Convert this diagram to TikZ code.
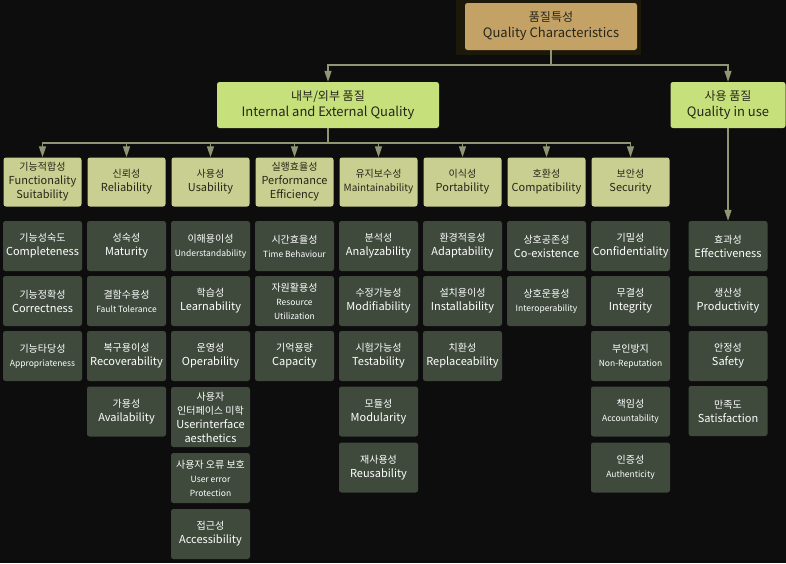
\documentclass[tikz,border=0pt]{standalone}
\usepackage{fontspec}
\setmainfont{Noto Sans CJK KR}
\usetikzlibrary{arrows.meta}

\definecolor{bgcol}{HTML}{0D0D0D}
\definecolor{rootedge}{HTML}{1C190B}
\definecolor{rootfill}{HTML}{C4A266}
\definecolor{grpfill}{HTML}{C6E07C}
\definecolor{catfill}{HTML}{C8CF90}
\definecolor{leaffill}{HTML}{3F4A3D}
\definecolor{linecol}{HTML}{8E9673}
\definecolor{darktxt}{HTML}{26261A}

% korean line slightly smaller than the english line
\newcommand{\kr}[1]{{\fontsize{10}{12.5}\selectfont #1}}
\newcommand{\smtxt}[1]{{\fontsize{8.5}{11}\selectfont #1}}

\begin{document}
\begin{tikzpicture}[x=1pt, y=-1pt,
  box/.style={rounded corners=2.5pt, align=center, inner sep=1pt,
    font=\fontsize{11}{14}\selectfont},
  rootbox/.style={box, fill=rootfill, text=darktxt, minimum width=172pt,
    minimum height=47pt, font=\fontsize{13}{16}\selectfont},
  grpbox/.style={box, fill=grpfill, text=darktxt, minimum height=46pt,
    font=\fontsize{13}{16}\selectfont},
  catbox/.style={box, fill=catfill, text=darktxt, minimum width=78pt,
    minimum height=49pt},
  leafbox/.style={box, fill=leaffill, text=white, minimum width=79pt,
    minimum height=50pt},
  conn/.style={draw=linecol, line width=1.2pt},
  arr/.style={conn, -{Triangle[width=7pt,length=11pt]}}]

\fill[bgcol] (0,0) rectangle (786,563);
\useasboundingbox (0,0) rectangle (786,563);

% top levels
\fill[rootedge] (456,0) rectangle (641,55);
\node[rootbox] (root) at (551,26.5) {\kr{\fontsize{12}{15}\selectfont 품질특성}\\Quality Characteristics};
\node[grpbox, minimum width=222pt] (inext) at (328,105) {\kr{\fontsize{12}{15}\selectfont 내부/외부 품질}\\Internal and External Quality};
\node[grpbox, minimum width=115pt] (inuse) at (728,105) {\kr{\fontsize{12}{15}\selectfont 사용 품질}\\Quality in use};

\coordinate (j1) at (551,65);
\coordinate (j2) at (328,143);
\draw[conn] (root) -- (j1);
\draw[arr] (j1) -| (inext);
\draw[arr] (j1) -| (inuse);
\draw[conn] (inext) -- (j2);

% characteristics
\node[catbox] (func) at (42.5,182) {\kr{기능적합성}\\Functionality\\Suitability};
\node[catbox] (reli) at (126.5,182) {\kr{신뢰성}\\Reliability};
\node[catbox] (usab) at (210.5,182) {\kr{사용성}\\Usability};
\node[catbox] (perf) at (294.5,182) {\kr{실행효율성}\\Performance\\Efficiency};
\node[catbox] (main) at (378.5,182) {\kr{유지보수성}\\{\fontsize{10}{14}\selectfont Maintainability}};
\node[catbox] (port) at (462.5,182) {\kr{이식성}\\Portability};
\node[catbox] (comp) at (546.5,182) {\kr{호환성}\\Compatibility};
\node[catbox] (secu) at (630.5,182) {\kr{보안성}\\Security};

\foreach \c in {func,reli,usab,perf,main,port,comp,secu}
  \draw[arr] (j2) -| (\c);

% sub-characteristics
\node[leafbox] (f1) at (42.5,246) {\kr{기능성숙도}\\Completeness};
\node[leafbox] (f2) at (42.5,301) {\kr{기능정확성}\\Correctness};
\node[leafbox] (f3) at (42.5,356) {\kr{기능타당성}\\\smtxt{Appropriateness}};

\node[leafbox] (r1) at (126.5,246) {\kr{성숙성}\\Maturity};
\node[leafbox] (r2) at (126.5,301) {\kr{결함수용성}\\\smtxt{Fault Tolerance}};
\node[leafbox] (r3) at (126.5,356) {\kr{복구용이성}\\Recoverability};
\node[leafbox] (r4) at (126.5,411.5) {\kr{가용성}\\Availability};

\node[leafbox] (u1) at (210.5,246) {\kr{이해용이성}\\\smtxt{Understandability}};
\node[leafbox] (u2) at (210.5,301) {\kr{학습성}\\Learnability};
\node[leafbox] (u3) at (210.5,356) {\kr{운영성}\\Operability};
\node[leafbox, minimum height=60pt] (u4) at (210.5,417) {\kr{사용자}\\\kr{인터페이스 미학}\\Userinterface\\aesthetics};
\node[leafbox] (u5) at (210.5,478) {\kr{사용자 오류 보호}\\\smtxt{User error}\\\smtxt{Protection}};
\node[leafbox] (u6) at (210.5,534) {\kr{접근성}\\Accessibility};

\node[leafbox] (p1) at (294.5,246) {\kr{시간효율성}\\\smtxt{Time Behaviour}};
\node[leafbox] (p2) at (294.5,301) {\kr{자원활용성}\\\smtxt{Resource}\\\smtxt{Utilization}};
\node[leafbox] (p3) at (294.5,356) {\kr{기억용량}\\Capacity};

\node[leafbox] (m1) at (378.5,246) {\kr{분석성}\\Analyzability};
\node[leafbox] (m2) at (378.5,301) {\kr{수정가능성}\\Modifiability};
\node[leafbox] (m3) at (378.5,356) {\kr{시험가능성}\\Testability};
\node[leafbox] (m4) at (378.5,411.5) {\kr{모듈성}\\Modularity};
\node[leafbox] (m5) at (378.5,467.5) {\kr{재사용성}\\Reusability};

\node[leafbox] (t1) at (462.5,246) {\kr{환경적응성}\\Adaptability};
\node[leafbox] (t2) at (462.5,301) {\kr{설치용이성}\\Installability};
\node[leafbox] (t3) at (462.5,356) {\kr{치환성}\\Replaceability};

\node[leafbox] (c1) at (546.5,246) {\kr{상호공존성}\\Co-existence};
\node[leafbox] (c2) at (546.5,301) {\kr{상호운용성}\\\smtxt{Interoperability}};

\node[leafbox] (s1) at (630.5,246) {\kr{기밀성}\\Confidentiality};
\node[leafbox] (s2) at (630.5,301) {\kr{무결성}\\Integrity};
\node[leafbox] (s3) at (630.5,356) {\kr{부인방지}\\\smtxt{Non-Reputation}};
\node[leafbox] (s4) at (630.5,411.5) {\kr{책임성}\\\smtxt{Accountability}};
\node[leafbox] (s5) at (630.5,467.5) {\kr{인증성}\\\smtxt{Authenticity}};

% quality in use
\node[leafbox] (q1) at (728,246) {\kr{효과성}\\Effectiveness};
\node[leafbox] (q2) at (728,301) {\kr{생산성}\\Productivity};
\node[leafbox] (q3) at (728,356) {\kr{안정성}\\Safety};
\node[leafbox] (q4) at (728,411) {\kr{만족도}\\Satisfaction};

\draw[arr] (inuse) -- (q1);
\end{tikzpicture}
\end{document}
